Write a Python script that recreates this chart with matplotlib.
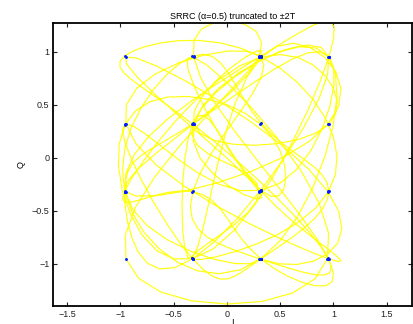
import numpy as np
import matplotlib
matplotlib.use('Agg')
import matplotlib.pyplot as plt

plt.rcParams['font.family'] = ['Liberation Sans', 'DejaVu Sans']

# 16-QAM symbol sequence (levels -3,-1,1,3), scaled by 1/sqrt(10)
sym_i = [3, -1, 1, -3, 1, 3, -1, -3, 1, 1, -1, 3, -3, 1, -1, 3, 1, -3, -1, 1,
         3, -1, 1, -3, 3, 1, -1, -1, 1, 3, -3, 1, -1, 1, 3, -1, -3, 1, 3, -1,
         1, -1, 3, 1, -3, -1, 1, 3, 1, -1, -3, 1, 3, -1, -3, -1, 3, -1, 1, -3,
         3, 1, -1, 3]
sym_q = [3, 1, -3, -1, 3, 3, -3, 1, 1, -1, 3, -3, -3, 3, 1, 1, 3, -1, -1, -3,
         -3, 3, 3, -1, 1, 3, -3, 1, -1, -3, 1, 3, -1, -3, -3, 1, 3, 3, -1, -3,
         -1, 1, 3, -3, -1, 3, 1, -1, -3, -3, 1, -1, 3, 1, -1, -3, 3, 1, -1, 3,
         -1, -3, 1, 3]
scale = 1 / np.sqrt(10)
alpha = 0.5
span = 2      # truncated to +-2T
sps = 8       # samples per symbol

def srrc(t, a):
    h = np.zeros_like(t)
    for k, tt in enumerate(t):
        if abs(tt) < 1e-9:
            h[k] = 1 - a + 4 * a / np.pi
        elif abs(abs(tt) - 1 / (4 * a)) < 1e-9:
            h[k] = a / np.sqrt(2) * ((1 + 2 / np.pi) * np.sin(np.pi / (4 * a))
                                     + (1 - 2 / np.pi) * np.cos(np.pi / (4 * a)))
        else:
            h[k] = (np.sin(np.pi * tt * (1 - a)) + 4 * a * tt * np.cos(np.pi * tt * (1 + a))) \
                   / (np.pi * tt * (1 - (4 * a * tt) ** 2))
    return h

t = np.arange(-span * sps, span * sps + 1) / sps
h = srrc(t, alpha)
g = np.convolve(h, h)
g = g / g.max()
delay = (len(g) - 1) // 2

sym = (np.array(sym_i) + 1j * np.array(sym_q)) * scale
up = np.zeros(len(sym) * sps, dtype=complex)
up[::sps] = sym
y = np.convolve(up, g)
idx = delay + np.arange(len(sym)) * sps
seg = y[idx[2]:idx[-3] + 1]
samp = y[idx[2:-2]]

fig = plt.figure(figsize=(4.13, 3.24), dpi=100)
ax = fig.add_axes([0.1295, 0.0556, 0.8681, 0.8724])
ax.plot(seg.real, seg.imag, color='#ffff10', lw=0.85)
ax.plot(samp.real, samp.imag, '.', color='#0020ff', ms=2.2)

ax.set_xlim(-1.626, 1.737)
ax.set_ylim(-1.40, 1.268)
ax.set_xticks([-1.5, -1, -0.5, 0, 0.5, 1, 1.5])
ax.set_xticklabels(['\u22121.5', '\u22121', '\u22120.5', '0', '0.5', '1', '1.5'])
ax.set_yticks([-1, -0.5, 0, 0.5, 1])
ax.set_yticklabels(['\u22121', '\u22120.5', '0', '0.5', '1'])
ax.tick_params(direction='in', length=3, width=0.8, labelsize=6.5,
               top=True, right=True, colors='#222222', pad=3)
for s in ax.spines.values():
    s.set_linewidth(1.3)
ax.set_title('SRRC (\u03b1=0.5) truncated to \u00b12T', fontsize=6.5, pad=3)
ax.set_xlabel('I', fontsize=6.5, labelpad=-1)
ax.set_ylabel('Q', fontsize=6.5, labelpad=4)

fig.savefig('out.png', dpi=100)
